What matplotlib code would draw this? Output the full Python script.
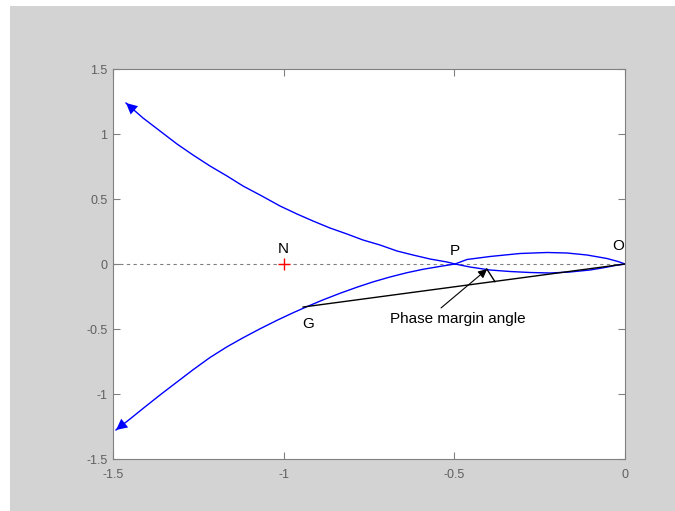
import matplotlib.pyplot as plt
from matplotlib.patches import Rectangle

# upper branch: from the arrow at top-left, down through P, lower lobe into O
upper_x = [-1.4619, -1.4355, -1.4121, -1.3623, -1.3125, -1.2656, -1.2158, -1.1660,
           -1.1191, -1.0693, -1.0107, -0.9609, -0.9141, -0.8643, -0.8145, -0.7676,
           -0.7178, -0.6680, -0.6211, -0.5713, -0.5215, -0.4980,
           -0.4541, -0.3955, -0.3369, -0.2783, -0.2197, -0.1611, -0.1025, -0.0586,
           -0.0293, 0.0]
upper_y = [1.2385, 1.1769, 1.1231, 1.0231, 0.9231, 0.8385, 0.7538, 0.6769,
           0.6000, 0.5308, 0.4462, 0.3846, 0.3308, 0.2769, 0.2308, 0.1846,
           0.1462, 0.1000, 0.0692, 0.0385, 0.0154, 0.0,
           -0.0231, -0.0462, -0.0577, -0.0654, -0.0692, -0.0615, -0.0462, -0.0269,
           -0.0115, 0.0]

# lower branch: from the arrow at bottom-left, up through G and P, upper lobe into O
lower_x = [-1.4912, -1.4502, -1.4121, -1.3623, -1.3125, -1.2656, -1.2158, -1.1660,
           -1.1191, -1.0693, -1.0195, -0.9727, -0.9316, -0.8848, -0.8350, -0.7852,
           -0.7383, -0.6885, -0.6387, -0.5918, -0.5420, -0.4980,
           -0.4629, -0.3955, -0.3076, -0.2285, -0.1699, -0.1113, -0.0527, -0.0205,
           0.0]
lower_y = [-1.2769, -1.1923, -1.1115, -1.0077, -0.9077, -0.8138, -0.7192, -0.6369,
           -0.5677, -0.4985, -0.4331, -0.3754, -0.3277, -0.2762, -0.2254, -0.1785,
           -0.1377, -0.1000, -0.0669, -0.0408, -0.0185, 0.0,
           0.0346, 0.0577, 0.0808, 0.0885, 0.0846, 0.0692, 0.0423, 0.0192,
           0.0]

critical_pt = (-1.0, 0.0)
g_pt = (-0.943, -0.331)
origin = (0.0, 0.0)
angle_mark = ([-0.405, -0.381], [-0.038, -0.136])
pm_tail = (-0.539, -0.338)
pm_tip = (-0.404, -0.040)
pm_text = (-0.489, -0.425)

labels = {'N': (-1.0, 0.116), 'P': (-0.498, 0.100), 'O': (-0.02, 0.139),
          'G': (-0.929, -0.461)}

xticks = [-1.5, -1, -0.5, 0]
yticks = [-1.5, -1, -0.5, 0, 0.5, 1, 1.5]

plt.rcParams['font.family'] = ['Liberation Sans', 'DejaVu Sans']

fig = plt.figure(figsize=(6.75, 5.11), dpi=100, facecolor='white')
fig.patches.append(Rectangle((10 / 675, 0), 665 / 675, 505 / 511,
                             transform=fig.transFigure, facecolor='#d3d3d3',
                             edgecolor='none', zorder=-10))
ax = fig.add_axes([113 / 675, 52 / 511, 512 / 675, 390 / 511])
ax.set_facecolor('white')

ax.plot([-1.5, 0], [0, 0], '--', color='#808080', lw=0.8, dashes=(3, 3))
ax.plot(upper_x, upper_y, color='blue', lw=1)
ax.plot(lower_x, lower_y, color='blue', lw=1)
ax.annotate('', xy=(upper_x[0], upper_y[0]), xytext=(upper_x[2], upper_y[2]),
            arrowprops=dict(arrowstyle='-|>', color='blue', lw=0, mutation_scale=20,
                            shrinkA=0, shrinkB=0))
ax.annotate('', xy=(lower_x[0], lower_y[0]), xytext=(lower_x[2], lower_y[2]),
            arrowprops=dict(arrowstyle='-|>', color='blue', lw=0, mutation_scale=20,
                            shrinkA=0, shrinkB=0))

ax.plot(*critical_pt, marker='+', color='red', ms=9, mew=1)
ax.plot([g_pt[0], origin[0]], [g_pt[1], origin[1]], color='black', lw=1)
ax.plot(angle_mark[0], angle_mark[1], color='black', lw=1)
ax.annotate('', xy=pm_tip, xytext=pm_tail,
            arrowprops=dict(arrowstyle='-|>', color='black', lw=0.8,
                            mutation_scale=13, shrinkA=0, shrinkB=0))
ax.text(*pm_text, 'Phase margin angle', fontsize=11, ha='center', va='center')

for name, (lx, ly) in labels.items():
    ax.text(lx, ly, name, fontsize=11, ha='center', va='center')

ax.set_xlim(-1.5, 0)
ax.set_ylim(-1.5, 1.5)
ax.set_xticks(xticks)
ax.set_yticks(yticks)
ax.set_xticklabels(['-1.5', '-1', '-0.5', '0'])
ax.set_yticklabels(['-1.5', '-1', '-0.5', '0', '0.5', '1', '1.5'])
ax.tick_params(direction='in', length=5, top=True, right=True, colors='#808080',
               labelcolor='#606060', labelsize=9, width=0.8)
ax.tick_params(axis='x', pad=7)
ax.tick_params(axis='y', pad=4)
for sp in ax.spines.values():
    sp.set_color('#808080')
    sp.set_linewidth(0.8)

plt.savefig('out.png', dpi=100, facecolor=fig.get_facecolor())
